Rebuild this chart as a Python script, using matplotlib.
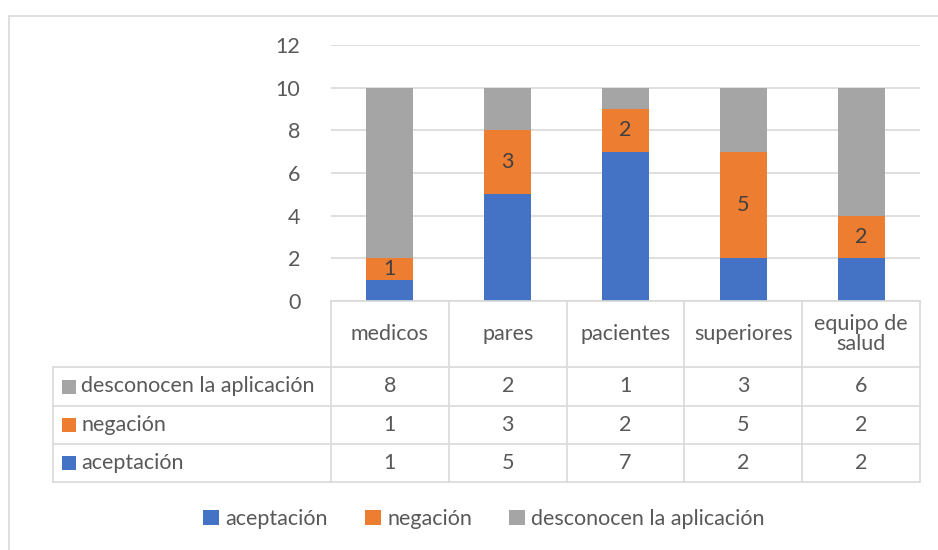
import matplotlib
matplotlib.use("Agg")
from matplotlib import pyplot as plt
from matplotlib.patches import Rectangle, Patch
from matplotlib.lines import Line2D

CATEGORIES = ['medicos', 'pares', 'pacientes', 'superiores', 'equipo de\nsalud']
ACEPTACION = [1, 5, 7, 2, 2]
NEGACION = [1, 3, 2, 5, 2]
DESCONOCEN = [8, 2, 1, 3, 6]
SERIES = ['aceptación', 'negación', 'desconocen la aplicación']
COLORS = ['#4472C4', '#ED7D31', '#A5A5A5']

TEXT = '#595959'
GRID = '#D9D9D9'
plt.rcParams['font.family'] = ['Lato', 'DejaVu Sans']
FS = 15.5

W, H = 938, 550
fig = plt.figure(figsize=(W / 100, H / 100), dpi=100)

def fx(px):
    return px / W

def fy(py):
    return 1 - py / H

# plot area (pixels)
X0, X1 = 331, 920
Y0, Y1 = 301, 45
ax = fig.add_axes([fx(X0), fy(Y0), fx(X1 - X0), (Y0 - Y1) / H])
n = len(CATEGORIES)
xs = list(range(n))
bottom2 = [a + b for a, b in zip(ACEPTACION, NEGACION)]
ax.bar(xs, ACEPTACION, width=0.4, color=COLORS[0], zorder=3)
ax.bar(xs, NEGACION, width=0.4, bottom=ACEPTACION, color=COLORS[1], zorder=3)
ax.bar(xs, DESCONOCEN, width=0.4, bottom=bottom2, color=COLORS[2], zorder=3)
for i, v in enumerate(NEGACION):
    ax.text(i, ACEPTACION[i] + v / 2, str(v), ha='center', va='center',
            fontsize=FS, color='#404040', zorder=4)

ax.set_xlim(-0.5, n - 0.5)
ax.set_ylim(0, 12)
ax.set_yticks(range(0, 13, 2))
ax.yaxis.grid(True, color=GRID, lw=1.2, zorder=0)
ax.set_xticks([])
ax.tick_params(axis='y', length=0, pad=22, labelsize=FS, labelcolor=TEXT)
for s in ax.spines.values():
    s.set_visible(False)

# data table under the chart
TL = 53
rows_y = [301, 367, 406, 444, 482]
col_w = (X1 - X0) / n

def hline(y, xa, xb):
    fig.add_artist(Line2D([fx(xa), fx(xb)], [fy(y), fy(y)], color=GRID, lw=1.2))

def vline(x, ya, yb):
    fig.add_artist(Line2D([fx(x), fx(x)], [fy(ya), fy(yb)], color=GRID, lw=1.2))

hline(rows_y[0], X0, X1)
for y in rows_y[1:]:
    hline(y, TL, X1)
vline(TL, rows_y[1], rows_y[-1])
for j in range(n + 1):
    vline(X0 + j * col_w, rows_y[0], rows_y[-1])

for j, c in enumerate(CATEGORIES):
    fig.text(fx(X0 + (j + 0.5) * col_w), fy((rows_y[0] + rows_y[1]) / 2), c,
             ha='center', va='center', fontsize=FS, color=TEXT, linespacing=1.05)

table_rows = [(SERIES[2], COLORS[2], DESCONOCEN),
              (SERIES[1], COLORS[1], NEGACION),
              (SERIES[0], COLORS[0], ACEPTACION)]
for r, (name, col, vals) in enumerate(table_rows):
    yc = (rows_y[r + 1] + rows_y[r + 2]) / 2
    fig.add_artist(Rectangle((fx(62), fy(yc + 7)), fx(14), 14 / H,
                             facecolor=col, edgecolor='none'))
    fig.text(fx(81), fy(yc), name, ha='left', va='center', fontsize=FS, color=TEXT)
    for j, v in enumerate(vals):
        fig.text(fx(X0 + (j + 0.5) * col_w), fy(yc), str(v), ha='center',
                 va='center', fontsize=FS, color=TEXT)

# legend
handles = [Patch(facecolor=c, edgecolor='none') for c in COLORS]
fig.legend(handles, SERIES, loc='center', bbox_to_anchor=(fx(484), fy(519)),
           ncol=3, frameon=False, fontsize=FS, labelcolor=TEXT,
           handlelength=0.75, handleheight=0.75, handletextpad=0.3, columnspacing=1.7)

# chart frame (right and bottom edges lie outside the image)
fig.add_artist(Rectangle((fx(9), fy(560)), fx(945), 544 / H, fill=False,
                         edgecolor=GRID, lw=1.2))

fig.savefig('out.png', dpi=100)
